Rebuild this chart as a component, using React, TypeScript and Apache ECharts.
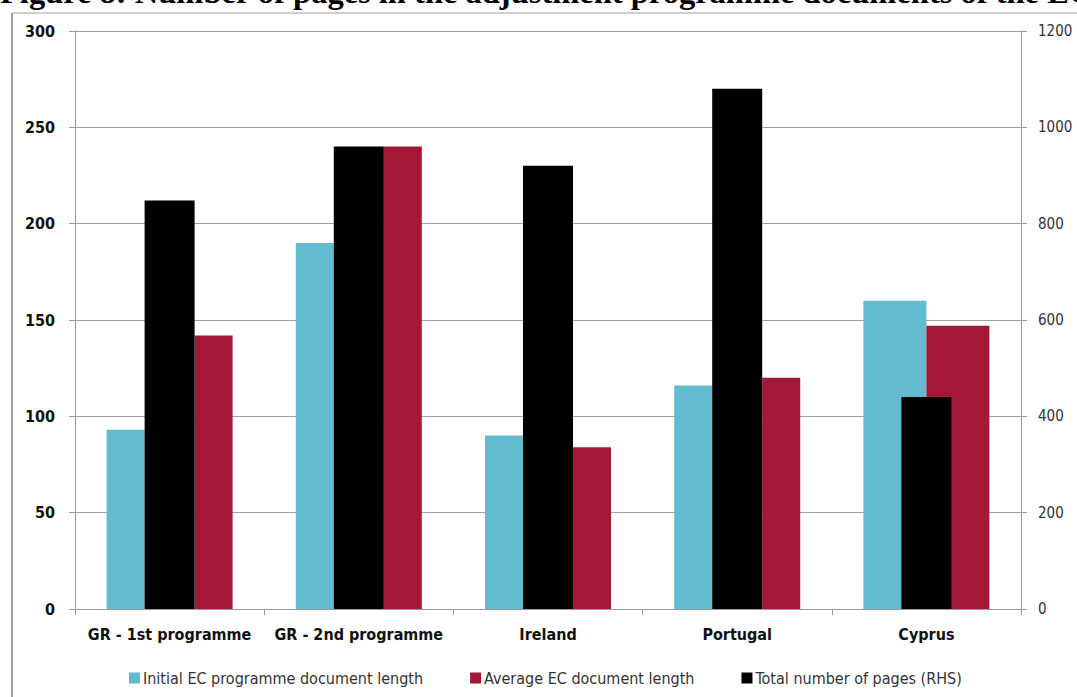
import React, { useEffect, useRef } from "react";
import * as echarts from "echarts";

const categories = ["GR - 1st programme", "GR - 2nd programme", "Ireland", "Portugal", "Cyprus"];
const initialLength = [93, 190, 90, 116, 160];
const averageLength = [142, 240, 84, 120, 147];
const totalPages = [848, 960, 920, 1080, 440];
const leftTicks = [0, 50, 100, 150, 200, 250, 300];
const rightTicks = [0, 200, 400, 600, 800, 1000, 1200];

const NAME_INITIAL = "Initial EC programme document length";
const NAME_AVERAGE = "Average EC document length";
const NAME_TOTAL = "Total number of pages (RHS)";
const TITLE = "Figure 8: Number of pages in the adjustment programme documents of the EC";

const CYAN = "#62BBCF";
const RED = "#A31837";
const BLACK = "#000000";
const AXIS_GRAY = "#9a9a9a";
const FONT = "'DejaVu Sans Condensed', 'DejaVu Sans', sans-serif";

export default function App() {
  const ref = useRef<HTMLDivElement>(null);
  useEffect(() => {
    if (!ref.current) return;
    const chart = echarts.init(ref.current, null, { renderer: "svg" });
    const lastIdx = categories.length - 1;
    // Side-by-side layout for the first categories; Cyprus is drawn with wide overlapping bars.
    const mainInitial = initialLength.map((v, i) => (i === lastIdx ? null : v));
    const mainAverage = averageLength.map((v, i) => (i === lastIdx ? null : v));
    const wideInitial = initialLength.map((v, i) => (i === lastIdx ? v : null));
    const wideAverage = averageLength.map((v, i) => (i === lastIdx ? v : null));

    chart.setOption({
      animation: false,
      backgroundColor: "#ffffff",
      grid: { left: 75, right: 56, top: 31, bottom: 88, containLabel: false },
      graphic: [
        {
          type: "text",
          left: 0,
          top: -25,
          style: {
            text: TITLE,
            fontFamily: "'Liberation Serif', 'Times New Roman', serif",
            fontWeight: "bold",
            fontSize: 32.5,
            fill: "#000",
          },
        },
        { type: "line", shape: { x1: 12, y1: 13, x2: 1077, y2: 13 }, style: { stroke: "#a0a0a0", lineWidth: 1 } },
        { type: "line", shape: { x1: 12, y1: 13, x2: 12, y2: 697 }, style: { stroke: "#a0a0a0", lineWidth: 2 } },
      ],
      legend: {
        data: [NAME_INITIAL, NAME_AVERAGE, NAME_TOTAL],
        top: 665,
        left: 124,
        icon: "rect",
        itemWidth: 11,
        itemHeight: 11,
        itemGap: 47,
        textStyle: { fontFamily: FONT, fontSize: 16, color: "#333", padding: [0, 0, 0, -2] },
      },
      xAxis: [
        {
          type: "category",
          data: categories,
          boundaryGap: true,
          axisLine: { show: true, lineStyle: { color: AXIS_GRAY, width: 1 } },
          axisTick: { show: true, length: 6, lineStyle: { color: AXIS_GRAY } },
          axisLabel: {
            interval: 0,
            fontFamily: FONT,
            fontWeight: "bold",
            fontSize: 16,
            color: "#111",
            margin: 17,
          },
        },
        {
          type: "category",
          data: categories,
          show: false,
          position: "bottom",
        },
      ],
      yAxis: [
        {
          type: "value",
          min: 0,
          max: 300,
          interval: 50,
          position: "left",
          axisLine: { show: true, lineStyle: { color: AXIS_GRAY } },
          axisTick: { show: true, length: 6, lineStyle: { color: AXIS_GRAY } },
          axisLabel: {
            fontFamily: FONT,
            fontWeight: "bold",
            fontSize: 16,
            color: "#111",
            margin: 20,
            formatter: (v: number) => (leftTicks.includes(v) ? String(v) : ""),
          },
          splitLine: { show: true, lineStyle: { color: "#a0a0a0", width: 1 } },
        },
        {
          type: "value",
          min: 0,
          max: 1200,
          interval: 200,
          position: "right",
          axisLine: { show: true, lineStyle: { color: AXIS_GRAY } },
          axisTick: { show: true, length: 6, lineStyle: { color: AXIS_GRAY } },
          axisLabel: {
            fontFamily: FONT,
            fontSize: 15,
            color: "#333",
            margin: 17,
            formatter: (v: number) => (rightTicks.includes(v) ? String(v) : ""),
          },
          splitLine: { show: false },
        },
      ],
      series: [
        {
          name: NAME_INITIAL,
          type: "bar",
          xAxisIndex: 0,
          yAxisIndex: 0,
          data: mainInitial,
          barWidth: 38,
          barGap: "0%",
          itemStyle: { color: CYAN },
          z: 2,
        },
        {
          name: NAME_TOTAL,
          type: "bar",
          xAxisIndex: 0,
          yAxisIndex: 1,
          data: totalPages,
          barWidth: 50,
          barGap: "0%",
          itemStyle: { color: BLACK },
          z: 4,
        },
        {
          name: NAME_AVERAGE,
          type: "bar",
          xAxisIndex: 0,
          yAxisIndex: 0,
          data: mainAverage,
          barWidth: 38,
          barGap: "0%",
          itemStyle: { color: RED },
          z: 2,
        },
        {
          name: NAME_INITIAL,
          type: "bar",
          xAxisIndex: 1,
          yAxisIndex: 0,
          data: wideInitial,
          barWidth: 63,
          barGap: "0%",
          itemStyle: { color: CYAN },
          z: 2,
        },
        {
          name: NAME_AVERAGE,
          type: "bar",
          xAxisIndex: 1,
          yAxisIndex: 0,
          data: wideAverage,
          barWidth: 63,
          barGap: "0%",
          itemStyle: { color: RED },
          z: 2,
        },
      ],
    });
    return () => chart.dispose();
  }, []);

  return (
    <div
      ref={ref}
      style={{ position: "absolute", left: 0, top: 0, width: 1077, height: 697, background: "#fff" }}
    />
  );
}
